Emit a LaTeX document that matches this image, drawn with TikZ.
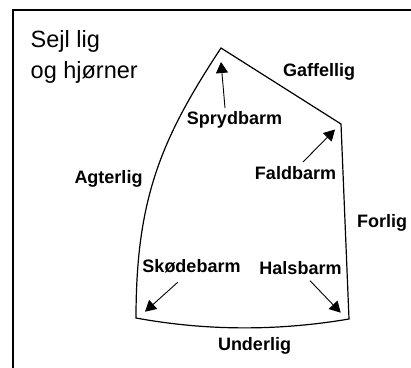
\documentclass[tikz,border=0pt]{standalone}
\usepackage{fontspec}
\setmainfont{Liberation Sans}
\usetikzlibrary{arrows.meta}
\begin{document}
\begin{tikzpicture}[x=1pt,y=-1pt,
  lbl/.style={font=\bfseries\fontsize{18}{21}\selectfont, inner sep=0pt, anchor=base},
  ttl/.style={font=\fontsize{23.5}{27}\selectfont, inner sep=0pt, anchor=base west},
  sail/.style={line width=1.2pt, line join=miter},
  frame/.style={line width=2pt},
  ptr/.style={line width=0.9pt, -{Triangle[length=11pt,width=12pt]}},
]
\useasboundingbox (0,0) rectangle (411,367);
% frame (cut at right and bottom)
\coordinate (fbl) at (12.5,380);
\coordinate (ftl) at (12.5,9.5);
\coordinate (ftr) at (425,9.5);
\draw[frame] (fbl) -- (ftl) -- (ftr);
% sail corners
\coordinate (head) at (221,48);
\coordinate (peak) at (341,124);
\coordinate (clew) at (136,318);
\coordinate (tack) at (349,319);
\draw[sail] (head) -- (peak) -- (tack)
  .. controls (278,331) and (207,331) .. (clew)
  .. controls (136,198) and (161.6,138) .. cycle;
% title
\node[ttl] (t1) at (30.5,47) {Sejl lig};
\node[ttl] (t2) at (30.5,78) {og hjørner};
% labels
\node[lbl] (gaff) at (319,76) {Gaffellig};
\node[lbl] (spryd) at (234.5,124) {Sprydbarm};
\node[lbl] (agter) at (108.5,183) {Agterlig};
\node[lbl] (fald) at (295.5,179) {Faldbarm};
\node[lbl] (forlig) at (382,227) {Forlig};
\node[lbl] (skode) at (191.5,272) {Skødebarm};
\node[lbl] (hals) at (300.5,274) {Halsbarm};
\node[lbl] (under) at (254.5,350) {Underlig};
% arrows
\coordinate (sprydT) at (225,108);
\coordinate (sprydH) at (221,62);
\coordinate (faldT) at (303,162);
\coordinate (faldH) at (335,129.5);
\coordinate (skodeT) at (177.7,282.3);
\coordinate (skodeH) at (145,311.7);
\coordinate (halsT) at (310,280.7);
\coordinate (halsH) at (340.7,312.7);
\draw[ptr] (sprydT) -- (sprydH);
\draw[ptr] (faldT) -- (faldH);
\draw[ptr] (skodeT) -- (skodeH);
\draw[ptr] (halsT) -- (halsH);
\end{tikzpicture}
\end{document}
